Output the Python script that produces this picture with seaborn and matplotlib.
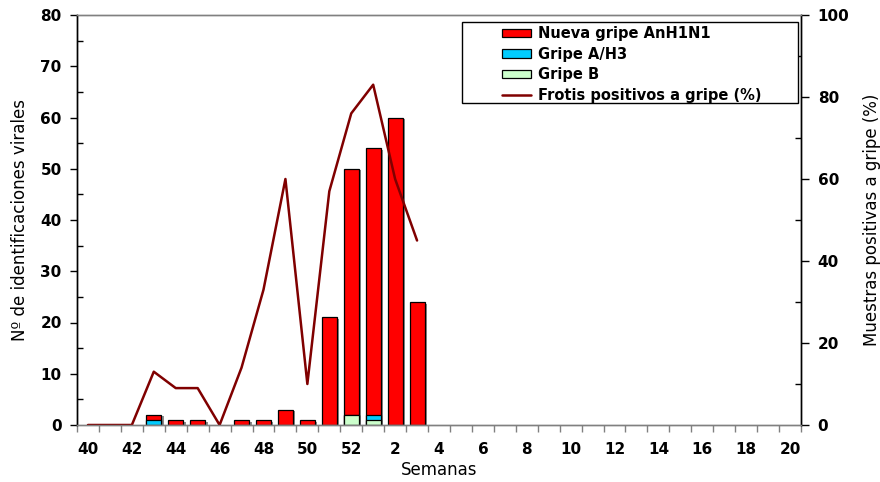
import numpy as np
import matplotlib
matplotlib.use("Agg")
import matplotlib.pyplot as plt
import matplotlib.patheffects as pe
from matplotlib.patches import Patch, Rectangle
from matplotlib.lines import Line2D
from matplotlib.ticker import MultipleLocator, FixedLocator
import seaborn as sns

# ---- data ----
weeks = ["40", "41", "42", "43", "44", "45", "46", "47", "48", "49", "50", "51", "52",
         "1", "2", "3", "4", "5", "6", "7", "8", "9", "10", "11", "12", "13", "14",
         "15", "16", "17", "18", "19", "20"]
h1n1 = [0, 0, 0, 1, 1, 1, 0, 1, 1, 3, 1, 21, 48, 52, 60, 24,
        0, 0, 0, 0, 0, 0, 0, 0, 0, 0, 0, 0, 0, 0, 0, 0, 0]
h3 = [0, 0, 0, 1, 0, 0, 0, 0, 0, 0, 0, 0, 0, 1, 0, 0,
      0, 0, 0, 0, 0, 0, 0, 0, 0, 0, 0, 0, 0, 0, 0, 0, 0]
gripe_b = [0, 0, 0, 0, 0, 0, 0, 0, 0, 0, 0, 0, 2, 1, 0, 0,
           0, 0, 0, 0, 0, 0, 0, 0, 0, 0, 0, 0, 0, 0, 0, 0, 0]
pct_pos = [0, 0, 0, 13, 9, 9, 0, 14, 33, 60, 10, 57, 76, 83, 60, 45]
tick_labels = ["40", "42", "44", "46", "48", "50", "52", "2", "4", "6", "8",
               "10", "12", "14", "16", "18", "20"]

C_RED = "#FF0000"
C_BLUE = "#00CCFF"
C_GREEN = "#CCFFCC"
C_LINE = "#800000"

sns.set_style("white")
plt.rcParams["font.family"] = ["DejaVu Sans"]
plt.rcParams["text.color"] = "black"
plt.rcParams["axes.labelcolor"] = "black"
plt.rcParams["xtick.color"] = "black"
plt.rcParams["ytick.color"] = "black"

fig = plt.figure(figsize=(8.8, 4.82), dpi=100)
ax = fig.add_axes([77 / 880, 57 / 482, 724 / 880, 410 / 482])

tot = np.array(h1n1) + np.array(h3) + np.array(gripe_b)
mid = np.array(h3) + np.array(gripe_b)
bb = np.array(gripe_b)

shadow = [pe.SimplePatchShadow(offset=(1.8, -1.2), shadow_rgbFace="#808080", alpha=0.9), pe.Normal()]
for vals, col, eff in [(tot, C_RED, shadow), (mid, C_BLUE, None), (bb, C_GREEN, None)]:
    n_before = len(ax.patches)
    sns.barplot(x=weeks, y=vals, order=weeks, color=col, saturation=1, width=0.68,
                edgecolor="black", linewidth=0.9, ax=ax)
    for p in ax.patches[n_before:]:
        if p.get_height() == 0:
            p.set_visible(False)
        elif eff is not None:
            p.set_path_effects(eff)

ax.set_xlim(-0.5, len(weeks) - 0.5)
ax.set_ylim(0, 80)

ax2 = ax.twinx()
sns.lineplot(x=np.arange(len(pct_pos)), y=pct_pos, color=C_LINE, linewidth=1.8, ax=ax2)
ax2.set_ylim(0, 100)
ax2.set_xlim(-0.5, len(weeks) - 0.5)

# x ticks
ax.xaxis.set_major_locator(FixedLocator(np.arange(0, len(weeks), 2)))
ax.set_xticklabels(tick_labels, fontsize=11, fontweight="bold", color="black")
ax.xaxis.set_minor_locator(FixedLocator(np.arange(-0.5, len(weeks), 1.0)))
ax.tick_params(axis="x", which="major", length=0, pad=12)
ax.tick_params(axis="x", which="minor", length=5, width=1, color="#808080", direction="out", bottom=True)

# left y
ax.yaxis.set_major_locator(MultipleLocator(10))
ax.yaxis.set_minor_locator(MultipleLocator(5))
ax.tick_params(axis="y", which="major", length=5, width=1, direction="out", left=True, pad=6, labelsize=11)
ax.tick_params(axis="y", which="minor", length=4, width=1, direction="in", left=True)
for t in ax.get_yticklabels():
    t.set_fontweight("bold")

# right y
ax2.yaxis.set_major_locator(MultipleLocator(20))
ax2.yaxis.set_minor_locator(MultipleLocator(10))
ax2.tick_params(axis="y", which="major", length=6, width=1, direction="out", right=True, pad=6, labelsize=11)
ax2.tick_params(axis="y", which="minor", length=4, width=1, direction="in", right=True)
for t in ax2.get_yticklabels():
    t.set_fontweight("bold")

for a in (ax, ax2):
    a.spines["left"].set_color("black")
    a.spines["right"].set_color("black")
    a.spines["top"].set_color("#808080")
    a.spines["bottom"].set_color("#808080")
    for s in a.spines.values():
        s.set_linewidth(1)

ax.set_xlabel("Semanas", fontsize=12, labelpad=3, color="black")
ax.set_ylabel("Nº de identificaciones virales", fontsize=12, labelpad=8, color="black")
ax2.set_ylabel("Muestras positivas a gripe (%)", fontsize=12, labelpad=10, color="black")

# legend
frame = Rectangle((0.532, 0.785), 0.996 - 0.532, 0.983 - 0.785, transform=ax2.transAxes,
                  facecolor="white", edgecolor="black", linewidth=1, zorder=4)
ax2.add_patch(frame)
handles = [Patch(facecolor=C_RED, edgecolor="black", linewidth=0.9),
           Patch(facecolor=C_BLUE, edgecolor="black", linewidth=0.9),
           Patch(facecolor=C_GREEN, edgecolor="black", linewidth=0.9),
           Line2D([0], [0], color=C_LINE, linewidth=1.8)]
labels = ["Nueva gripe AnH1N1", "Gripe A/H3", "Gripe B", "Frotis positivos a gripe (%)"]
leg = ax2.legend(handles, labels, loc="upper left", bbox_to_anchor=(0.587, 0.973),
                 frameon=False, borderpad=0, borderaxespad=0, handlelength=2.0,
                 handleheight=0.55, handletextpad=0.5, labelspacing=0.38,
                 prop={"weight": "bold", "size": 10.5})
for t in leg.get_texts():
    t.set_color("black")
leg.set_zorder(5)

fig.savefig("out.png", dpi=100, facecolor="white")
